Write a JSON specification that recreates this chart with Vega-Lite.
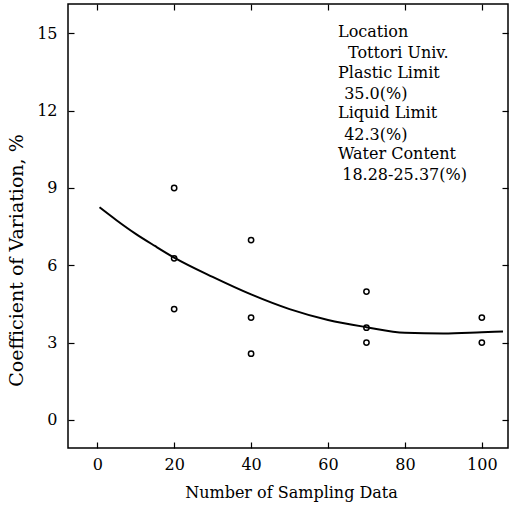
{
  "$schema": "https://vega.github.io/schema/vega-lite/v6.json",
  "width": 440,
  "height": 444,
  "autosize": {"type": "none"},
  "padding": {"left": 68, "top": 4, "right": 1, "bottom": 57},
  "background": "white",
  "config": {
    "view": {"stroke": "black", "strokeWidth": 1.5},
    "font": "DejaVu Serif",
    "axis": {
      "domain": false,
      "grid": false,
      "tickColor": "black",
      "tickWidth": 1.2,
      "labelFont": "DejaVu Serif",
      "titleFont": "DejaVu Serif",
      "labelColor": "black",
      "titleColor": "black",
      "titleFontWeight": "normal"
    }
  },
  "datasets": {
    "pts": [
      {"n": 20, "cv": 9.0},
      {"n": 20, "cv": 6.27},
      {"n": 20, "cv": 4.3},
      {"n": 40, "cv": 6.98},
      {"n": 40, "cv": 3.97},
      {"n": 40, "cv": 2.57},
      {"n": 70, "cv": 4.98},
      {"n": 70, "cv": 3.58},
      {"n": 70, "cv": 3.0},
      {"n": 100, "cv": 3.97},
      {"n": 100, "cv": 3.0}
    ],
    "curve": [
      {"n": 0.6, "cv": 8.25},
      {"n": 5, "cv": 7.75},
      {"n": 10, "cv": 7.22},
      {"n": 15, "cv": 6.75},
      {"n": 20, "cv": 6.3},
      {"n": 30, "cv": 5.55},
      {"n": 40, "cv": 4.87},
      {"n": 50, "cv": 4.3},
      {"n": 60, "cv": 3.88},
      {"n": 70, "cv": 3.6},
      {"n": 80, "cv": 3.38},
      {"n": 90, "cv": 3.35},
      {"n": 100, "cv": 3.4},
      {"n": 105.5, "cv": 3.43}
    ],
    "notes": [
      {"tx": 62.6, "ty": 15.07, "t": "Location"},
      {"tx": 65.2, "ty": 14.24, "t": "Tottori Univ."},
      {"tx": 62.6, "ty": 13.45, "t": "Plastic Limit"},
      {"tx": 64.2, "ty": 12.65, "t": "35.0(%)"},
      {"tx": 62.6, "ty": 11.9, "t": "Liquid Limit"},
      {"tx": 64.2, "ty": 11.07, "t": "42.3(%)"},
      {"tx": 62.6, "ty": 10.3, "t": "Water Content"},
      {"tx": 63.7, "ty": 9.5, "t": "18.28-25.37(%)"}
    ]
  },
  "resolve": {"axis": {"x": "independent", "y": "independent"}},
  "layer": [
    {
      "data": {"name": "pts"},
      "mark": {"type": "point", "shape": "circle", "filled": false, "color": "black", "size": 28, "strokeWidth": 1.5, "opacity": 1},
      "encoding": {
        "x": {
          "field": "n", "type": "quantitative",
          "scale": {"domain": [-7.6, 106.8], "nice": false, "zero": false},
          "axis": {"orient": "bottom", "values": [0, 20, 40, 60, 80, 100], "tickSize": -6, "labelPadding": 14, "labelFontSize": 16, "title": "Number of Sampling Data", "titleFontSize": 16, "titleX": 223, "titleY": 44, "titleBaseline": "middle", "titleAlign": "center"}
        },
        "y": {
          "field": "cv", "type": "quantitative",
          "scale": {"domain": [-1.09, 16.14], "nice": false, "zero": false},
          "axis": {"orient": "left", "values": [0, 3, 6, 9, 12, 15], "tickSize": -6, "labelPadding": 17, "labelFontSize": 16, "title": "Coefficient of Variation, %", "titleFontSize": 19, "titleX": -52, "titleY": 256, "titleBaseline": "middle", "titleAlign": "center", "titleAngle": -90}
        }
      }
    },
    {
      "data": {"name": "curve"},
      "mark": {"type": "line", "color": "black", "strokeWidth": 2, "interpolate": "monotone"},
      "encoding": {
        "x": {
          "field": "n", "type": "quantitative",
          "axis": {"orient": "top", "values": [0, 20, 40, 60, 80, 100], "tickSize": -6, "labels": false, "title": null}
        },
        "y": {
          "field": "cv", "type": "quantitative",
          "axis": {"orient": "right", "values": [0, 3, 6, 9, 12, 15], "tickSize": -6, "labels": false, "title": null}
        }
      }
    },
    {
      "data": {"name": "notes"},
      "mark": {"type": "text", "align": "left", "baseline": "middle", "fontSize": 16, "font": "DejaVu Serif", "color": "black"},
      "encoding": {
        "x": {"field": "tx", "type": "quantitative", "axis": null},
        "y": {"field": "ty", "type": "quantitative", "axis": null},
        "text": {"field": "t"}
      }
    }
  ]
}
